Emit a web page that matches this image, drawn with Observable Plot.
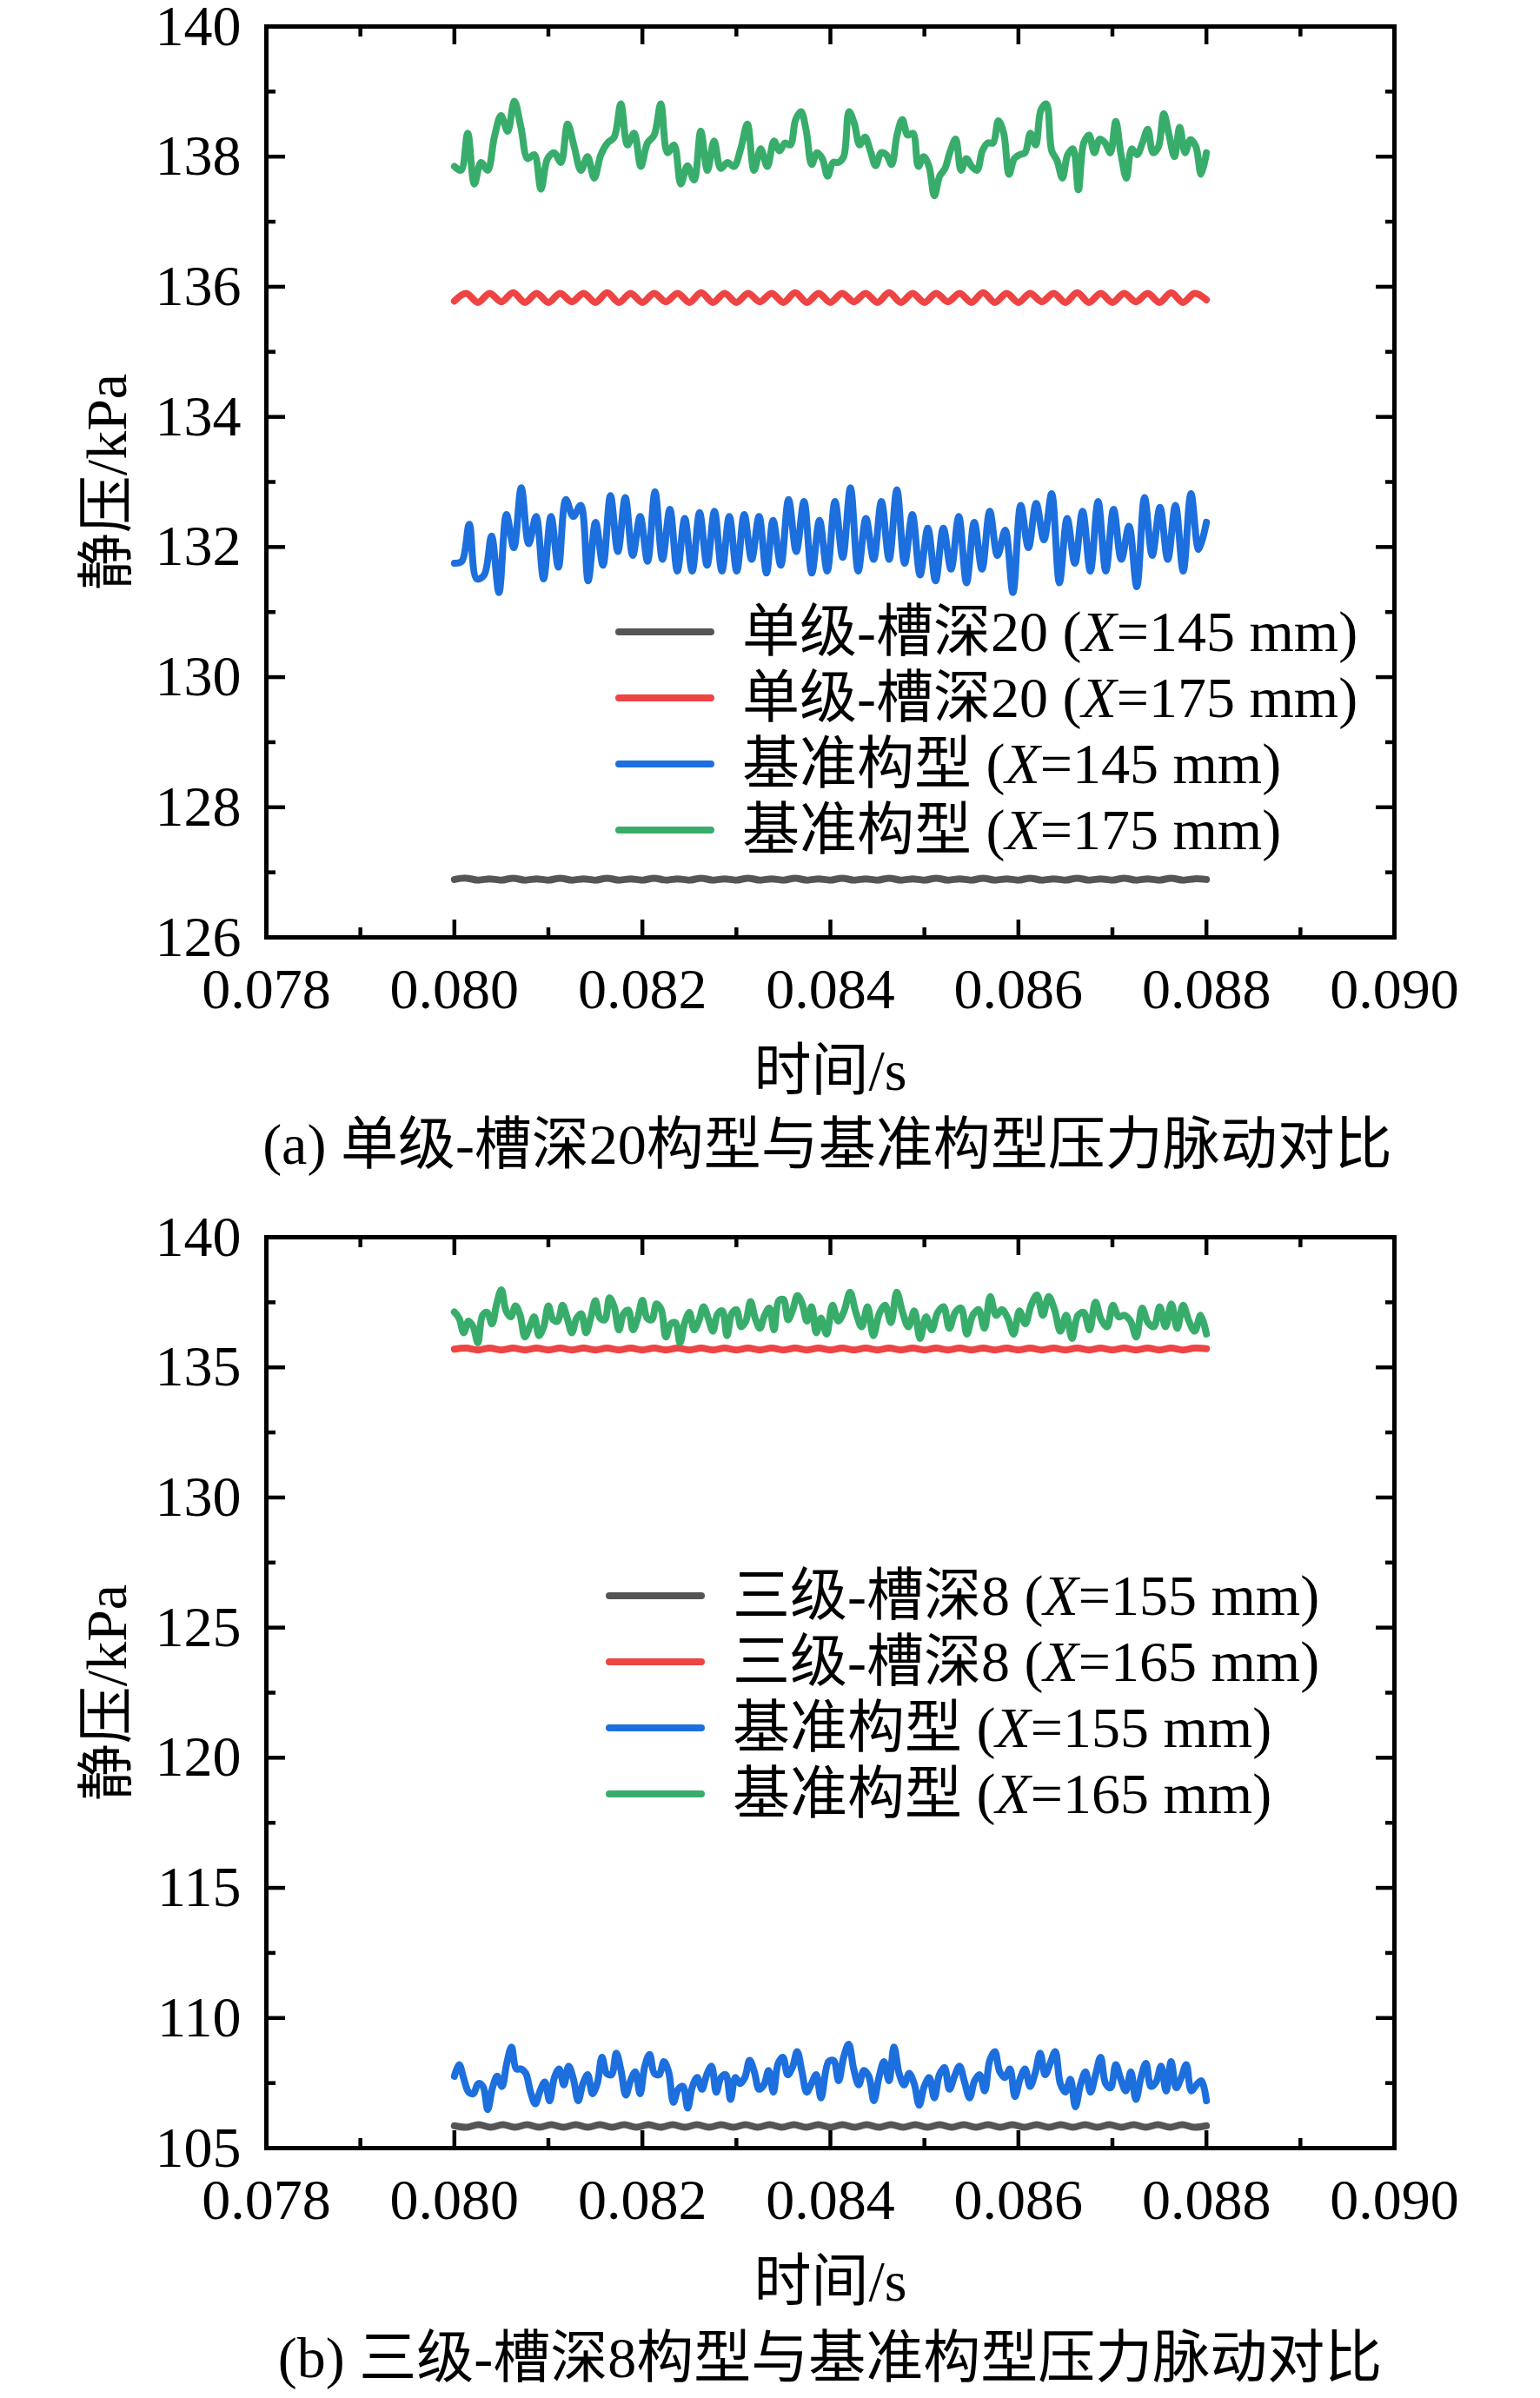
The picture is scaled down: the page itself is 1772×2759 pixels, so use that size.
<!DOCTYPE html>
<html><head><meta charset="utf-8">
<script src="https://cdn.jsdelivr.net/npm/d3@7"></script>
<script src="https://cdn.jsdelivr.net/npm/@observablehq/plot@0.6"></script>
<style>
body{margin:0;background:#fff;}
#root{position:relative;width:1772px;height:2759px;background:#fff;font-family:"Liberation Serif","Noto Sans CJK SC",serif;color:#000;overflow:hidden;}
.panel{position:absolute;left:0;}
.cap{position:absolute;white-space:nowrap;font-size:66px;line-height:1;transform:translate(-50%,-50%);}
.leg{position:absolute;display:flex;align-items:center;height:76px;white-space:nowrap;font-size:66px;line-height:76px;}
.sw{width:114px;height:8px;border-radius:4px;margin-right:32px;flex:none;}
</style></head>
<body><div id="root"></div>
<script>
// ---------- tick values ----------
const xMajor = [0.078, 0.080, 0.082, 0.084, 0.086, 0.088, 0.090];
const xMinor = [0.079, 0.081, 0.083, 0.085, 0.087, 0.089];
const yMajorA = [126, 128, 130, 132, 134, 136, 138, 140];
const yMinorA = [127, 129, 131, 133, 135, 137, 139];
const yMajorB = [105, 110, 115, 120, 125, 130, 135, 140];
const yMinorB = [107.5, 112.5, 117.5, 122.5, 127.5, 132.5, 137.5];

// ---------- panel (a) series (kPa) ----------
const blackA = [126.89,126.91,126.88,126.90,126.88,126.91,126.88,126.90,126.88,126.91,
126.88,126.90,126.88,126.91,126.88,126.90,126.88,126.91,126.88,126.90,
126.88,126.91,126.88,126.90,126.88,126.91,126.88,126.90,126.88,126.91,
126.88,126.90,126.88,126.91,126.88,126.90,126.88,126.91,126.88,126.90,
126.88,126.91,126.88,126.90,126.88,126.91,126.88,126.90,126.88,126.91,
126.88,126.90,126.88,126.91,126.88,126.90,126.88,126.91,126.88,126.90,
126.88,126.91,126.88,126.90,126.89];
const redA = [135.78,135.90,135.76,135.90,135.77,
135.91,135.76,135.90,135.76,135.90,
135.77,135.90,135.76,135.91,135.76,
135.90,135.76,135.90,135.77,135.90,
135.76,135.91,135.76,135.90,135.76,
135.90,135.77,135.90,135.76,135.91,
135.76,135.90,135.76,135.90,135.77,
135.90,135.76,135.91,135.76,135.90,
135.76,135.90,135.77,135.90,135.76,
135.91,135.76,135.90,135.76,135.90,
135.77,135.90,135.76,135.91,135.76,
135.90,135.76,135.90,135.77,135.90,
135.76,135.91,135.76,135.90,135.80];
const blueA1 = [131.75,131.78,132.35,131.51,131.57,132.17,131.30,132.50,131.99,132.91,
132.05,132.47,131.51,132.47,131.69,132.73,132.47,132.64,131.48,132.38,
131.72,132.79,131.93,132.76,131.87,132.47,131.78,132.85,131.81,132.58,
131.63,132.44,131.63,132.53,131.72,132.55,131.63,132.47,131.63,132.50,
131.81,132.47,131.60];
const blueA2 = [132.41,131.72,132.73,131.93,132.70,131.60,132.41,131.63,132.70,131.84,
132.91,131.63,132.44,131.81,132.70,131.81,132.88,131.75,132.50,131.57,
132.29,131.48,132.29,131.66,132.47,131.45,132.38,131.66,132.55,131.87,
132.26,131.30,132.64,131.99,132.67,132.11,132.82,131.45,132.44,131.75,
132.55,131.63,132.70,131.63,132.58,131.81,132.32,131.39,132.76,131.87,
132.61,131.81,132.64,131.63,132.82,131.96,132.38];
const greenA1 = [137.85,137.79,138.36,137.58,137.91,137.79,138.30,138.63,138.39,138.85,
138.45,137.97,138.03,137.50,137.97,138.06,137.91,138.50,138.15,137.79,
138.00,137.67,138.03,138.21,138.30,138.81,138.18,138.36,137.85,138.21,
138.33,138.81,138.06,138.18,137.58,137.86,137.64,138.39,137.79,138.24,
137.82,137.91,137.85,138.12,138.50,137.79,138.12,137.85,138.24];
const greenA2 = [138.09,138.21,138.18,138.57,138.69,138.39,137.88,138.06,137.97,137.70,
137.91,137.91,138.00,138.69,138.51,138.18,138.30,138.09,137.86,138.06,
138.03,137.88,138.33,138.57,138.33,138.36,137.85,138.00,137.85,137.40,
137.70,137.82,138.09,138.27,137.79,137.97,137.85,137.79,138.09,138.21,
138.21,138.55,138.36,137.73,137.97,138.03,138.06,138.36,138.18,138.72,
138.81,138.09,137.94,137.67,138.03,138.12,137.49,138.21,138.33,138.06,
138.27,138.21,138.06,138.54,138.03,137.67,138.12,138.03,138.21,138.42,
138.06,138.15,138.66,138.33,138.00,138.45,138.06,138.26,138.16,137.73,
138.06];

// ---------- panel (b) series (kPa) ----------
const blackB = [105.86,105.80,105.90,105.80,105.90,105.80,105.90,105.80,105.90,105.80,
105.90,105.80,105.90,105.80,105.90,105.80,105.90,105.80,105.90,105.80,
105.90,105.80,105.90,105.80,105.90,105.80,105.90,105.80,105.90,105.80,
105.90,105.80,105.90,105.80,105.90,105.80,105.90,105.80,105.90,105.80,
105.90,105.80,105.90,105.80,105.90,105.80,105.90,105.80,105.90,105.80,
105.90,105.80,105.90,105.80,105.90,105.80,105.90,105.80,105.90,105.80,
105.90,105.80,105.86];
const redB = [135.70,135.74,135.67,135.74,135.67,135.74,135.67,135.74,135.67,135.74,
135.67,135.74,135.67,135.74,135.67,135.74,135.67,135.74,135.67,135.74,
135.67,135.74,135.67,135.74,135.67,135.74,135.67,135.74,135.67,135.74,
135.67,135.74,135.67,135.74,135.67,135.74,135.67,135.74,135.67,135.74,
135.67,135.74,135.67,135.74,135.67,135.74,135.67,135.74,135.67,135.74,
135.67,135.74,135.67,135.74,135.67,135.74,135.67,135.74,135.67,135.74,
135.67,135.74,135.67,135.74,135.72];
const blueB1 = [107.76,108.21,107.65,107.15,107.09,107.48,107.37,106.48,107.32,107.76,
107.37,108.26,108.88,108.04,108.04,107.87,107.15,106.70,107.20,107.54,
106.82,107.71,108.04,107.43,108.15,107.65,106.82,107.48,107.82,107.09,
107.48,108.49,107.87,107.82,108.65,107.98,107.04,107.59,107.93,107.09,
108.15,108.60,107.87,107.82,108.32,107.93,106.76,107.26,107.37,106.54,
107.37,107.71,107.26,107.82,108.15,107.15,107.71,107.82,106.87,107.71,
107.48,107.71,108.37,107.93,107.26,107.43,107.98,107.15,108.26,108.49,
107.82,108.10,108.71,107.93,107.15,107.48,107.82,106.93];
const blueB2 = [108.32,108.37,107.59,108.49,108.99,108.04,107.43,107.98,107.76,106.82,
107.71,108.32,107.59,108.88,107.87,107.43,107.87,107.48,106.65,107.37,
107.71,106.93,107.82,108.10,107.26,107.76,108.15,107.54,106.93,107.59,
107.82,107.20,108.37,108.71,107.93,107.71,108.04,106.98,107.65,108.04,
107.37,107.87,108.65,107.82,108.26,108.71,107.48,107.15,107.65,106.59,
107.43,107.93,107.15,107.82,108.49,107.48,107.32,108.21,107.65,107.20,
107.93,106.87,107.71,108.26,107.37,107.54,108.15,107.20,108.32,107.32,
107.71,108.21,107.20,107.43,107.59,106.82];
const greenB1 = [137.13,136.89,136.33,136.78,136.56,135.94,137.00,137.11,136.67,137.44,
137.98,137.17,136.94,137.36,137.00,136.17,136.56,136.94,136.22,136.56,
137.36,136.83,136.78,137.39,136.89,136.33,136.89,137.06,136.33,136.89,
137.56,136.89,136.83,137.67,137.33,136.44,137.06,137.20,136.44,136.89,
137.58,136.89,136.83,137.44,137.22,136.17,136.67,136.72,135.94,136.72,
137.11,136.44,136.78,137.33,136.89,136.39,137.06,137.17,136.22,137.06,
137.22,136.56,136.78,137.53,136.89,136.50,137.00,137.28,136.44,137.56,
137.61,136.83,137.22,137.76,137.44,136.78,137.33,136.33,136.89];
const greenB2 = [136.28,137.39,136.78,137.17,137.89,137.11,136.56,137.33,136.22,137.06,
137.39,136.72,137.89,137.11,136.56,137.17,136.11,136.94,136.44,137.11,
137.33,136.50,137.11,137.28,136.28,137.00,137.22,136.50,137.72,137.00,
137.22,136.89,136.28,137.17,136.67,137.39,137.78,137.00,137.72,137.22,
136.39,137.00,136.11,137.00,137.11,136.44,137.50,136.83,136.56,137.39,
136.94,137.00,136.78,136.17,137.28,136.72,136.56,137.33,136.56,137.44,
136.50,137.39,136.78,136.39,137.00,136.28];

// ---------- labels / colours ----------
const colors = ["#555555", "#EE4444", "#1C6FDD", "#38AD6B"];
const legendA = ["单级-槽深20 (<i>X</i>=145 mm)", "单级-槽深20 (<i>X</i>=175 mm)", "基准构型 (<i>X</i>=145 mm)", "基准构型 (<i>X</i>=175 mm)"];
const legendB = ["三级-槽深8 (<i>X</i>=155 mm)", "三级-槽深8 (<i>X</i>=165 mm)", "基准构型 (<i>X</i>=155 mm)", "基准构型 (<i>X</i>=165 mm)"];
const captionA = "(a) 单级-槽深20构型与基准构型压力脉动对比";
const captionB = "(b) 三级-槽深8构型与基准构型压力脉动对比";
const xTitle = "时间/s";
const yTitle = "静压/kPa";

// sampling times: each segment spans [t0, t1] evenly
function series(parts) {
  return parts.flatMap(([t0, t1, vals]) => vals.map((v, i) => ({t: t0 + (t1 - t0) * i / (vals.length - 1), v})));
}

const FONT = '"Liberation Serif","Noto Sans CJK SC",serif';

function panel(yDomain, yMajor, yMinor, lines) {
  const tk = {fill: "none", label: null, strokeWidth: 4.5, stroke: "#000"};
  return Plot.plot({
    width: 1772, height: 1290,
    marginTop: 30, marginBottom: 212, marginLeft: 306, marginRight: 168,
    style: {fontFamily: FONT, fontSize: "64px", color: "#000", background: "transparent", overflow: "visible"},
    x: {domain: [0.078, 0.090]},
    y: {domain: yDomain},
    marks: [
      ...lines.map((s, i) => Plot.line(s, {x: "t", y: "v", stroke: colors[i], strokeWidth: 8, curve: "catmull-rom", strokeLinejoin: "round", strokeLinecap: "round"})),
      Plot.axisX(xMajor, {...tk, anchor: "bottom", tickSize: -20}),
      Plot.axisX(xMinor, {...tk, anchor: "bottom", tickSize: -11}),
      Plot.axisX(xMajor, {...tk, anchor: "top", tickSize: -20}),
      Plot.axisX(xMinor, {...tk, anchor: "top", tickSize: -11}),
      Plot.axisY(yMajor, {...tk, anchor: "left", tickSize: -22}),
      Plot.axisY(yMinor, {...tk, anchor: "left", tickSize: -11}),
      Plot.axisY(yMajor, {...tk, anchor: "right", tickSize: -22}),
      Plot.axisY(yMinor, {...tk, anchor: "right", tickSize: -11}),
      Plot.axisX(xMajor, {anchor: "bottom", tickSize: 0, tickPadding: 35, fontSize: 66, label: null, tickFormat: d => d.toFixed(3)}),
      Plot.axisY(yMajor, {anchor: "left", tickSize: 0, tickPadding: 29, fontSize: 66, label: null, tickFormat: d => String(d)}),
      Plot.frame({stroke: "#000", strokeWidth: 5}),
      Plot.text([xTitle], {text: d => d, frameAnchor: "bottom", dy: 154, fontSize: 66, textAnchor: "middle", lineAnchor: "middle"}),
      Plot.text([yTitle], {text: d => d, frameAnchor: "left", dx: -183, rotate: -90, fontSize: 66, textAnchor: "middle", lineAnchor: "middle"})
    ]
  });
}

const root = document.getElementById("root");

const linesA = [
  series([[0.080, 0.088, blackA]]),
  series([[0.080, 0.088, redA]]),
  series([[0.080, 0.08332, blueA1], [0.08339, 0.088, blueA2]]),
  series([[0.080, 0.08340, greenA1], [0.08346, 0.088, greenA2]])
];
const linesB = [
  series([[0.080, 0.088, blackB]]),
  series([[0.080, 0.088, redB]]),
  series([[0.080, 0.08390, blueB1], [0.08398, 0.088, blueB2]]),
  series([[0.080, 0.08390, greenB1], [0.08396, 0.088, greenB2]])
];

const pa = panel([126, 140], yMajorA, yMinorA, linesA);
pa.classList.add("panel"); pa.style.top = "0px";
root.appendChild(pa);
const pb = panel([105, 140], yMajorB, yMinorB, linesB);
pb.classList.add("panel"); pb.style.top = "1393px";
root.appendChild(pb);

function caption(txt, cx, cy) {
  const d = document.createElement("div");
  d.className = "cap"; d.textContent = txt;
  d.style.left = cx + "px"; d.style.top = cy + "px";
  root.appendChild(d);
}
caption(captionA, 952, 1317);
caption(captionB, 955, 2713);

function legend(labels, left, firstCy, step) {
  labels.forEach((lab, i) => {
    const row = document.createElement("div");
    row.className = "leg";
    row.style.left = left + "px";
    row.style.top = (firstCy + i * step - 38) + "px";
    const sw = document.createElement("div");
    sw.className = "sw"; sw.style.background = colors[i];
    const tx = document.createElement("span");
    tx.innerHTML = lab;
    row.appendChild(sw); row.appendChild(tx);
    root.appendChild(row);
  });
}
legend(legendA, 708, 727, 76);
legend(legendB, 697, 1836, 76);
</script>
</body></html>
